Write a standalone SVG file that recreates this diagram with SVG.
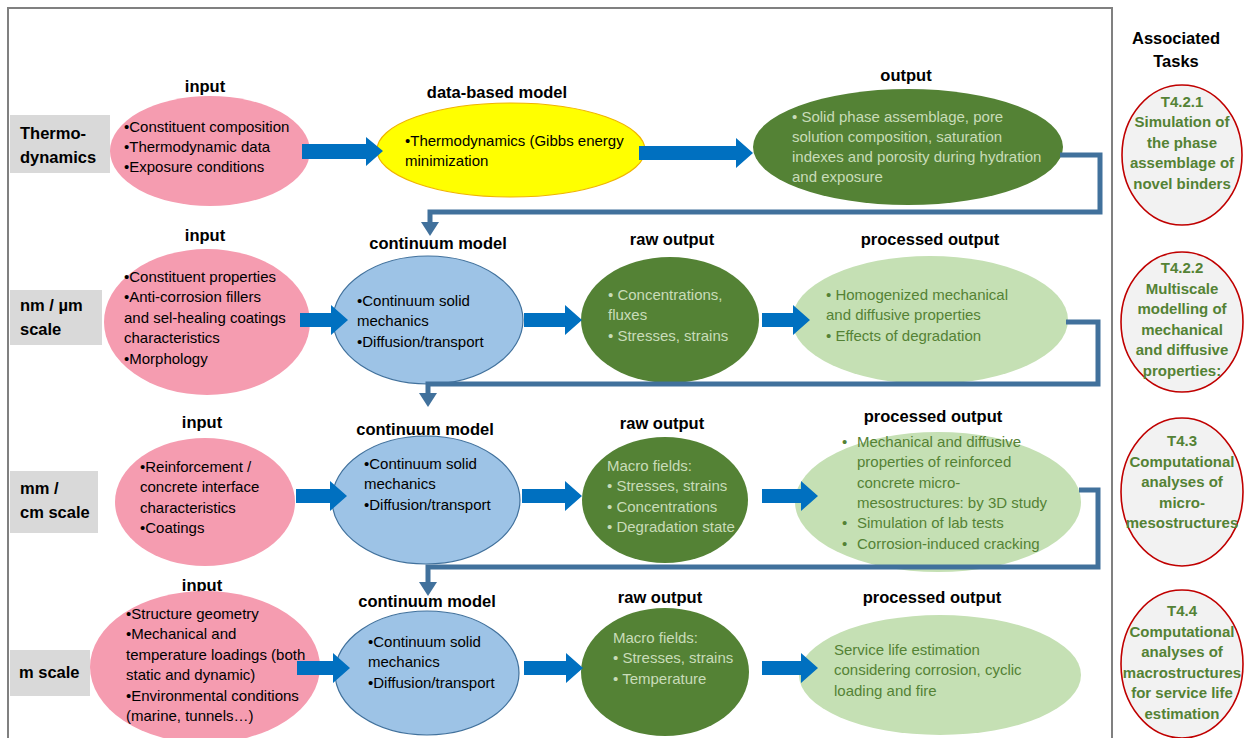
<svg xmlns="http://www.w3.org/2000/svg" width="1245" height="738" viewBox="0 0 1245 738">
<defs>
<style>
.h{font-family:"Liberation Sans",Arial,sans-serif;font-weight:bold;font-size:16.5px;fill:#000;text-anchor:middle}
.lb{font-family:"Liberation Sans",Arial,sans-serif;font-weight:bold;font-size:16.5px;fill:#000}
.t{font-family:"Liberation Sans",Arial,sans-serif;font-size:15px;fill:#000}
.lt{fill:#c9dcb9}
.dg{fill:#548235}
.tk{font-family:"Liberation Sans",Arial,sans-serif;font-weight:bold;font-size:15px;fill:#548235;text-anchor:middle}
.pink{fill:#f59cb0}
.yel{fill:#ffff00;stroke:#f0b400;stroke-width:1.2}
.dgr{fill:#548235}
.lgr{fill:#c5e0b4}
.blu{fill:#9dc3e6;stroke:#41719c;stroke-width:1.2}
.box{fill:#d9d9d9}
.task{fill:#f2f2f2;stroke:#c00000;stroke-width:1.6}
.ba{fill:#0070c0}
.el{fill:none;stroke:#41719c;stroke-width:5;marker-end:url(#ah)}
</style>
<marker id="ah" markerUnits="userSpaceOnUse" viewBox="0 0 14 18" refX="0" refY="9" markerWidth="14" markerHeight="18" orient="auto">
<path d="M0,0 L14,9 L0,18 z" fill="#41719c"/>
</marker>
</defs>
<rect width="1245" height="738" fill="#ffffff"/>
<rect x="8" y="8" width="1104" height="745" fill="none" stroke="#808080" stroke-width="2"/>

<!-- Row 1 -->
<g id="lbl-thermo"><rect class="box" x="10" y="115" width="100" height="58"/><text class="lb" x="20" y="139">Thermo-</text><text class="lb" x="20" y="163">dynamics</text></g>
<g id="r1-input"><text class="h" x="205" y="92">input</text><ellipse class="pink" cx="210" cy="151" rx="100" ry="55"/>
<text class="t" x="124" y="132">•Constituent composition</text><text class="t" x="124" y="152">•Thermodynamic data</text><text class="t" x="124" y="172">•Exposure conditions</text></g>
<g id="r1-model"><text class="h" x="497" y="98">data-based model</text><ellipse class="yel" cx="511" cy="150" rx="134" ry="47"/>
<text class="t" x="405" y="146">•Thermodynamics (Gibbs energy</text><text class="t" x="405" y="166">minimization</text></g>
<g id="r1-output"><text class="h" x="906" y="81">output</text><ellipse class="dgr" cx="908" cy="147" rx="155" ry="58"/>
<text class="t lt" x="792" y="122">• Solid phase assemblage, pore</text><text class="t lt" x="792" y="142">solution composition, saturation</text><text class="t lt" x="792" y="162">indexes and porosity during hydration</text><text class="t lt" x="792" y="182">and exposure</text></g>

<!-- Row 2 -->
<g id="lbl-nm"><rect class="box" x="10" y="290" width="92" height="55"/><text class="lb" x="20" y="311">nm / µm</text><text class="lb" x="20" y="335">scale</text></g>
<g id="r2-input"><text class="h" x="205" y="241">input</text><ellipse class="pink" cx="207" cy="322" rx="103" ry="73"/>
<text class="t" x="124" y="282">•Constituent properties</text><text class="t" x="124" y="302">•Anti-corrosion fillers</text><text class="t" x="124" y="323">and sel-healing coatings</text><text class="t" x="124" y="343">characteristics</text><text class="t" x="124" y="364">•Morphology</text></g>
<g id="r2-model"><text class="h" x="438" y="249">continuum model</text><ellipse class="blu" cx="428" cy="320" rx="95" ry="64"/>
<text class="t" x="357" y="306">•Continuum solid</text><text class="t" x="357" y="326">mechanics</text><text class="t" x="357" y="347">•Diffusion/transport</text></g>
<g id="r2-raw"><text class="h" x="672" y="245">raw output</text><ellipse class="dgr" cx="670" cy="320" rx="89" ry="63"/>
<text class="t lt" x="608" y="300">• Concentrations,</text><text class="t lt" x="608" y="320">fluxes</text><text class="t lt" x="608" y="341">• Stresses, strains</text></g>
<g id="r2-proc"><text class="h" x="930" y="245">processed output</text><ellipse class="lgr" cx="930" cy="320" rx="138" ry="64"/>
<text class="t dg" x="826" y="300">• Homogenized mechanical</text><text class="t dg" x="826" y="320">and diffusive properties</text><text class="t dg" x="826" y="341">• Effects of degradation</text></g>

<!-- Row 3 -->
<g id="lbl-mm"><rect class="box" x="10" y="471" width="88" height="62"/><text class="lb" x="20" y="494">mm /</text><text class="lb" x="20" y="518">cm scale</text></g>
<g id="r3-input"><text class="h" x="202" y="428">input</text><ellipse class="pink" cx="205" cy="502" rx="90" ry="64"/>
<text class="t" x="140" y="472">•Reinforcement /</text><text class="t" x="140" y="492">concrete interface</text><text class="t" x="140" y="513">characteristics</text><text class="t" x="140" y="533">•Coatings</text></g>
<g id="r3-model"><text class="h" x="425" y="435">continuum model</text><ellipse class="blu" cx="426" cy="500" rx="94" ry="64"/>
<text class="t" x="364" y="469">•Continuum solid</text><text class="t" x="364" y="489">mechanics</text><text class="t" x="364" y="510">•Diffusion/transport</text></g>
<g id="r3-raw"><text class="h" x="662" y="429">raw output</text><ellipse class="dgr" cx="665" cy="500" rx="83" ry="63"/>
<text class="t lt" x="607" y="471">Macro fields:</text><text class="t lt" x="607" y="491">• Stresses, strains</text><text class="t lt" x="607" y="512">• Concentrations</text><text class="t lt" x="607" y="532">• Degradation state</text></g>
<g id="r3-proc"><text class="h" x="933" y="422">processed output</text><ellipse class="lgr" cx="938" cy="502" rx="143" ry="70"/>
<text class="t dg" x="842" y="447">•</text><text class="t dg" x="857" y="447">Mechanical and diffusive</text><text class="t dg" x="857" y="467">properties of reinforced</text><text class="t dg" x="857" y="488">concrete micro-</text><text class="t dg" x="857" y="508">mesostructures: by 3D study</text><text class="t dg" x="842" y="528">•</text><text class="t dg" x="857" y="528">Simulation of lab tests</text><text class="t dg" x="842" y="549">•</text><text class="t dg" x="857" y="549">Corrosion-induced cracking</text></g>

<!-- Row 4 -->
<g id="lbl-m"><rect class="box" x="10" y="650" width="80" height="46"/><text class="lb" x="19" y="678">m scale</text></g>
<g id="r4-input"><text class="h" x="202" y="591">input</text><ellipse class="pink" cx="205" cy="667" rx="115" ry="76"/>
<text class="t" x="126" y="619">•Structure geometry</text><text class="t" x="126" y="639">•Mechanical and</text><text class="t" x="126" y="660">temperature loadings (both</text><text class="t" x="126" y="680">static and dynamic)</text><text class="t" x="126" y="701">•Environmental conditions</text><text class="t" x="126" y="721">(marine, tunnels…)</text></g>
<g id="r4-model"><text class="h" x="427" y="607">continuum model</text><ellipse class="blu" cx="427" cy="673" rx="92" ry="62"/>
<text class="t" x="368" y="647">•Continuum solid</text><text class="t" x="368" y="667">mechanics</text><text class="t" x="368" y="688">•Diffusion/transport</text></g>
<g id="r4-raw"><text class="h" x="660" y="603">raw output</text><ellipse class="dgr" cx="665" cy="672" rx="84" ry="64"/>
<text class="t lt" x="613" y="643">Macro fields:</text><text class="t lt" x="613" y="663">• Stresses, strains</text><text class="t lt" x="613" y="684">• Temperature</text></g>
<g id="r4-proc"><text class="h" x="932" y="603">processed output</text><ellipse class="lgr" cx="940" cy="675" rx="141" ry="60"/>
<text class="t dg" x="834" y="655">Service life estimation</text><text class="t dg" x="834" y="675">considering corrosion, cyclic</text><text class="t dg" x="834" y="696">loading and fire</text></g>

<!-- Tasks -->
<g id="tasks-head"><text class="h" x="1176" y="44">Associated</text><text class="h" x="1176" y="67">Tasks</text></g>
<g id="task-421"><ellipse class="task" cx="1182" cy="155" rx="60" ry="70"/>
<text class="tk" x="1182" y="107">T4.2.1</text><text class="tk" x="1182" y="127">Simulation of</text><text class="tk" x="1182" y="148">the phase</text><text class="tk" x="1182" y="168">assemblage of</text><text class="tk" x="1182" y="189">novel binders</text></g>
<g id="task-422"><ellipse class="task" cx="1182" cy="322" rx="61" ry="70"/>
<text class="tk" x="1182" y="273">T4.2.2</text><text class="tk" x="1182" y="294">Multiscale</text><text class="tk" x="1182" y="314">modelling of</text><text class="tk" x="1182" y="335">mechanical</text><text class="tk" x="1182" y="355">and diffusive</text><text class="tk" x="1182" y="376">properties:</text></g>
<g id="task-43"><ellipse class="task" cx="1182" cy="492" rx="61" ry="74"/>
<text class="tk" x="1182" y="446">T4.3</text><text class="tk" x="1182" y="467">Computational</text><text class="tk" x="1182" y="487">analyses of</text><text class="tk" x="1182" y="508">micro-</text><text class="tk" x="1182" y="528">mesostructures</text></g>
<g id="task-44"><ellipse class="task" cx="1182" cy="664" rx="61" ry="74"/>
<text class="tk" x="1182" y="616">T4.4</text><text class="tk" x="1182" y="637">Computational</text><text class="tk" x="1182" y="657">analyses of</text><text class="tk" x="1182" y="678">macrostructures</text><text class="tk" x="1182" y="698">for service life</text><text class="tk" x="1182" y="719">estimation</text></g>

<!-- Connectors -->
<g id="connectors">
<polygon class="ba" points="302,144 366,144 366,137 383,151 366,166 366,159 302,159"/>
<polygon class="ba" points="639,146 736,146 736,138 753,153 736,168 736,160 639,160"/>
<polygon class="ba" points="300,313 331,313 331,305 348,320 331,335 331,327 300,327"/>
<polygon class="ba" points="524,313 565,313 565,305 582,320 565,335 565,327 524,327"/>
<polygon class="ba" points="762,313 793,313 793,305 810,320 793,335 793,327 762,327"/>
<polygon class="ba" points="296,489 330,489 330,481 347,496 330,511 330,503 296,503"/>
<polygon class="ba" points="522,489 565,489 565,481 582,496 565,511 565,503 522,503"/>
<polygon class="ba" points="762,489 801,489 801,481 818,496 801,511 801,503 762,503"/>
<polygon class="ba" points="297,661 333,661 333,653 350,668 333,683 333,675 297,675"/>
<polygon class="ba" points="524,661 566,661 566,653 583,668 566,683 566,675 524,675"/>
<polygon class="ba" points="762,661 801,661 801,653 818,668 801,683 801,675 762,675"/>
<path class="el" d="M1060,155 H1100 V212 H430 V222"/>
<path class="el" d="M1066,322 H1098 V384 H428 V393"/>
<path class="el" d="M1079,490 H1098 V567 H428 V582"/>
</g>
</svg>
